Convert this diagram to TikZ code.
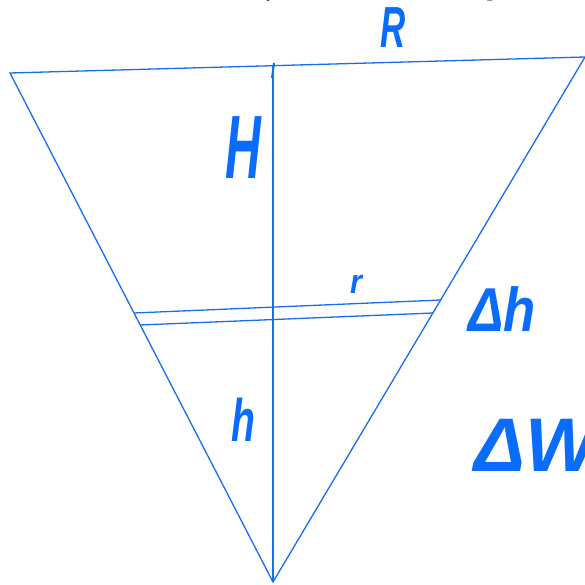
\documentclass[tikz,border=0pt]{standalone}
\usepackage{fontspec}
\newfontfamily\hand{Liberation Sans}
\definecolor{ink}{RGB}{22,110,235}
\definecolor{pen}{RGB}{10,108,250}
\newcommand{\hsz}[1]{\hand\bfseries\itshape\fontsize{#1}{#1}\selectfont}
\begin{document}
\begin{tikzpicture}[x=1pt,y=-1pt,
  edge/.style={draw=ink,line width=1.3pt},
  lbl/.style={text=pen,inner sep=0pt}]
\useasboundingbox (0,0) rectangle (585,585);
\clip (0,0) rectangle (585,585);
% cut-off heading text
\node[font=\Large,anchor=base,inner sep=0pt] (tp) at (270,-1) {p};
\node[font=\Large,anchor=base,inner sep=0pt] (tg) at (490,-1) {g};
% corners
\coordinate (A) at (10,73);
\coordinate (B) at (585,57);
\coordinate (C) at (273,582);
\coordinate (T) at (273,65);
\coordinate (L1) at (134,313);
\coordinate (R1) at (441,300);
\coordinate (L2) at (140,325);
\coordinate (R2) at (433,313);
\draw[edge] (A) -- (B) -- (C) -- cycle;
\draw[edge] (T) -- (C);
\draw[edge,line width=2pt] (274,63) -- (272,78);
\draw[edge] (L1) -- (R1);
\draw[edge] (L2) -- (R2);
% labels
\node[lbl,font=\hsz{58},xscale=0.6] (R) at (393,28) {R};
\node[lbl,font=\hsz{90},xscale=0.55] (H) at (243,148) {H};
\node[lbl,font=\hsz{34},xscale=0.9] (r) at (356,284) {r};
\node[lbl,font=\hsz{62},xscale=0.85] (dh) at (502,309) {Δh};
\node[lbl,font=\hsz{60},xscale=0.65] (h) at (243,420) {h};
\node[lbl,font=\hsz{76},anchor=west] (dW) at (474,445) {ΔW};
\end{tikzpicture}
\end{document}
